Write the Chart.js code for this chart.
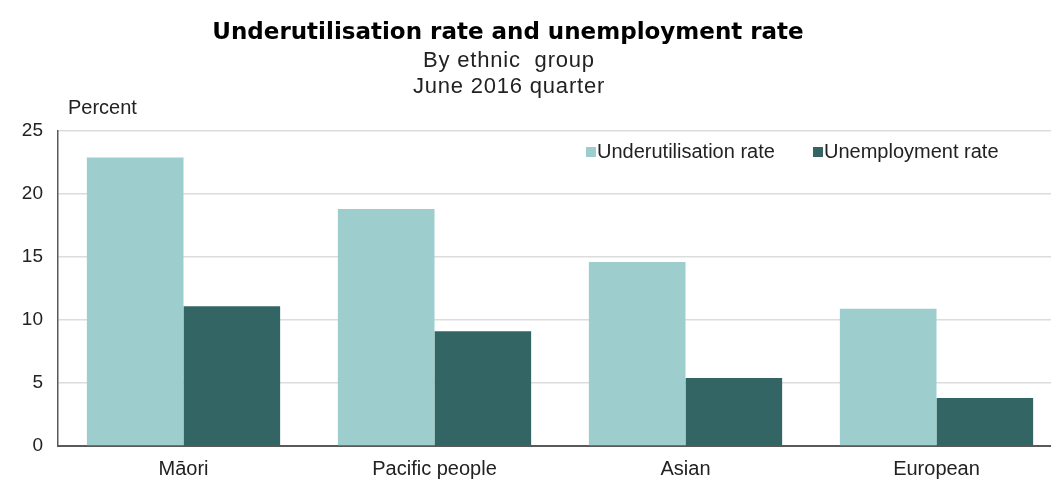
<!DOCTYPE html>
<html>
<head>
<meta charset="utf-8">
<script src="https://cdn.jsdelivr.net/npm/chart.js@4"></script>
<style>
  html, body { margin: 0; padding: 0; background: #fff; overflow: hidden; }
  #wrap { width: 1062px; height: 480px; position: relative; }
</style>
</head>
<body>
<div id="wrap"><canvas id="myChart"></canvas></div>
<script>
const categories = ['Māori', 'Pacific people', 'Asian', 'European']
const underutilisation = [22.9, 18.8, 14.6, 10.9]
const unemployment = [11.1, 9.1, 5.4, 3.8]
const yTicks = [0, 5, 10, 15, 20, 25]

const titleLines = ['Underutilisation rate and unemployment rate', 'By ethnic  group', 'June 2016 quarter']
const yAxisLabel = 'Percent'

const FONT = '"Liberation Sans", Arial, sans-serif'

// title, subtitles and the "Percent" label
const headerPlugin = {
	id: 'header',
	afterDraw(chart) {
		const ctx = chart.ctx
		ctx.save()
		ctx.fillStyle = '#000'
		ctx.textAlign = 'center'
		ctx.textBaseline = 'middle'
		ctx.font = 'bold 23px "DejaVu Sans", sans-serif'
		ctx.fillText(titleLines[0], 508, 33)
		ctx.font = '22px ' + FONT
		ctx.letterSpacing = '0.8px'
		ctx.fillStyle = '#222'
		ctx.fillText(titleLines[1], 509, 61)
		ctx.fillText(titleLines[2], 509, 87)
		ctx.letterSpacing = '0px'
		ctx.textAlign = 'left'
		ctx.font = '20px ' + FONT
		ctx.fillText(yAxisLabel, 68, 108)
		ctx.restore()
	}
}

// legend drawn inside the plot area, top right
const insideLegend = {
	id: 'insideLegend',
	afterDraw(chart) {
		const ctx = chart.ctx
		const spots = [586, 813]
		ctx.save()
		ctx.font = '20px ' + FONT
		ctx.textBaseline = 'middle'
		chart.data.datasets.forEach((ds, i) => {
			ctx.fillStyle = ds.backgroundColor
			ctx.fillRect(spots[i], 147, 10, 10)
			ctx.fillStyle = '#222'
			ctx.fillText(ds.label, spots[i] + 11, 152)
		})
		ctx.restore()
	}
}

new Chart(document.getElementById('myChart'), {
	type: 'bar',
	data: {
		labels: categories,
		datasets: [
			{label: 'Underutilisation rate', data: underutilisation, backgroundColor: '#9dcdcc'},
			{label: 'Unemployment rate', data: unemployment, backgroundColor: '#326563'}
		]
	},
	options: {
		responsive: true,
		maintainAspectRatio: false,
		animation: false,
		layout: {padding: {top: 131, left: 0, right: 0, bottom: 0}},
		datasets: {bar: {barPercentage: 1, categoryPercentage: 0.77}},
		plugins: {
			legend: {display: false},
			title: {display: false},
			tooltip: {enabled: false}
		},
		scales: {
			x: {
				grid: {display: false},
				border: {color: '#595959', width: 2},
				ticks: {color: '#222', font: {family: FONT, size: 20}, padding: 3},
				afterFit: (scale) => { scale.height = 34 }
			},
			y: {
				min: 0,
				max: 25,
				afterBuildTicks: (scale) => { scale.ticks = yTicks.map(v => ({value: v})) },
				grid: {color: '#dcdcdc', lineWidth: 1.5, drawTicks: false},
				border: {color: '#595959', width: 1.5},
				ticks: {color: '#222', font: {family: FONT, size: 19}, padding: 15},
				afterFit: (scale) => { scale.width = 58 }
			}
		}
	},
	plugins: [headerPlugin, insideLegend]
})
</script>
</body>
</html>
